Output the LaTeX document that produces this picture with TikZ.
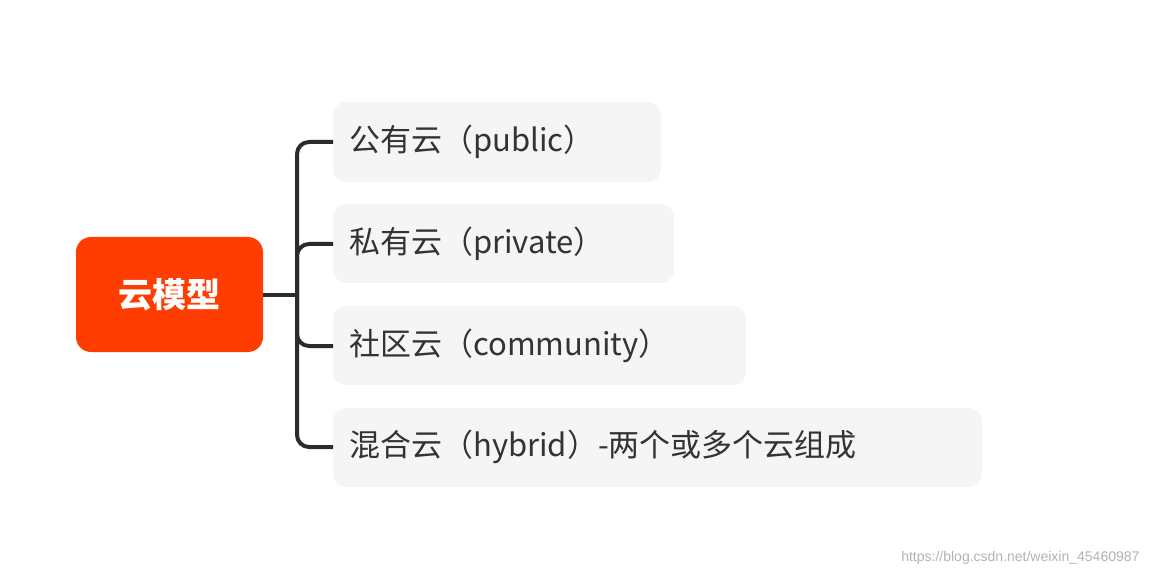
\documentclass[tikz,border=0pt]{standalone}
\usepackage{fontspec}
\setmainfont{Noto Sans CJK SC}
\newfontfamily\wm{Liberation Sans}
\definecolor{rootc}{HTML}{FF3D00}
\definecolor{boxc}{HTML}{F5F5F5}
\definecolor{txtc}{HTML}{333333}
\definecolor{linec}{HTML}{2B2B2B}
\begin{document}
\begin{tikzpicture}[x=1pt,y=-1pt,
  box/.style={fill=boxc,rounded corners=13pt},
  lbl/.style={anchor=west,text=txtc,font=\fontsize{31}{36}\selectfont,inner sep=0pt},
  conn/.style={draw=linec,line width=4pt,rounded corners=12pt}]
\useasboundingbox (0,0) rectangle (1151,577);
\fill[rootc,rounded corners=15pt] (76,237) rectangle (263,352);
\node[text=white,font=\fontsize{34}{40}\selectfont\bfseries] (root) at (169.5,295) {云模型};
\coordinate (rootE) at (263,295);
\fill[box] (333,102) rectangle (661,182);
\fill[box] (333,204) rectangle (674,283);
\fill[box] (333,306) rectangle (746,385);
\fill[box] (333,408) rectangle (982,487);
\coordinate (w1) at (333,142);
\coordinate (w2) at (333,244);
\coordinate (w3) at (333,346);
\coordinate (w4) at (333,447);
\coordinate (j) at (297,295);
\node[lbl] (n1) at (349,142) {公有云（public）};
\node[lbl] (n2) at (349,244) {私有云（private）};
\node[lbl] (n3) at (349,346) {社区云（community）};
\node[lbl] (n4) at (349,447) {混合云（hybrid）-两个或多个云组成};
\draw[conn] (rootE) -- (j);
\draw[conn] (w1) -| (j) |- (w4);
\draw[conn] (w2) -| (j);
\draw[conn] (w3) -| (j);
\node[anchor=east,text=gray!60,font=\wm\fontsize{14}{16}\selectfont] (wmk) at (1143,558) {https://blog.csdn.net/weixin\_45460987};
\end{tikzpicture}
\end{document}
